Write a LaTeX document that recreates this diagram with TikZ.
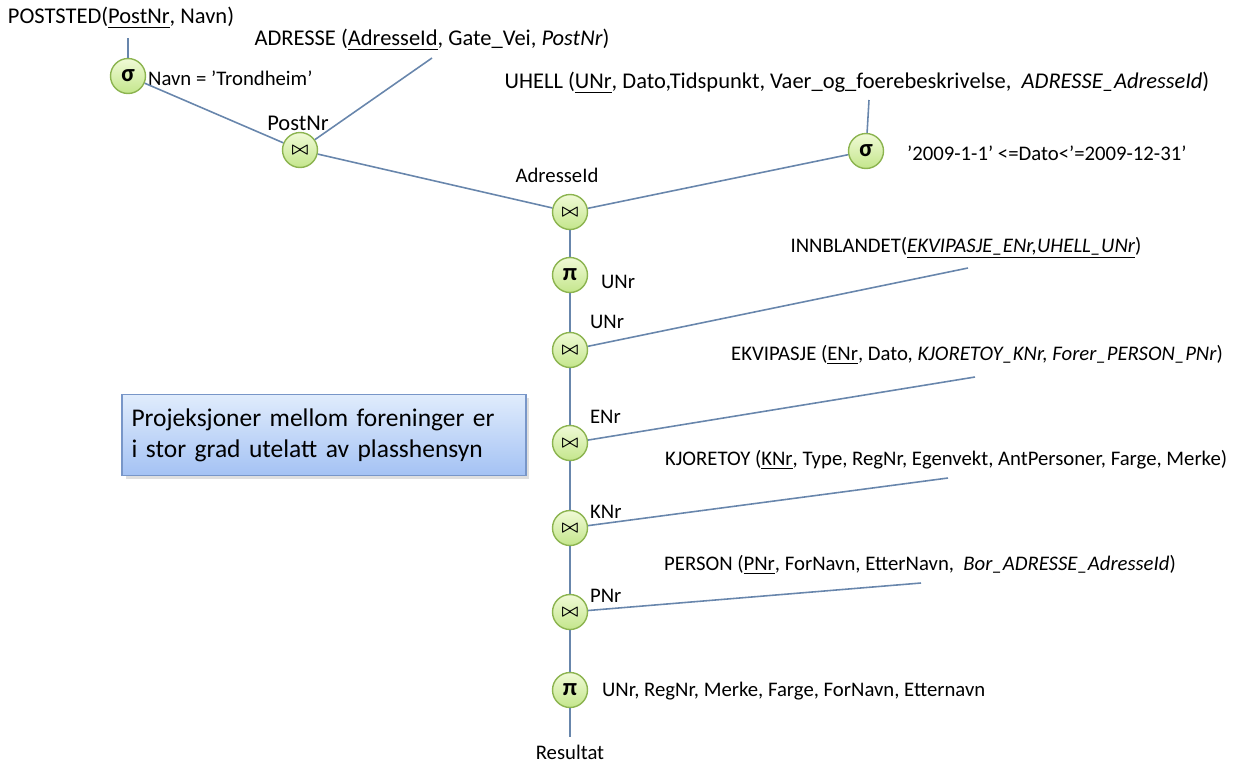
\documentclass[tikz,border=0pt]{standalone}
\usepackage{fontspec}
\setmainfont{Carlito}
\usepackage{amsmath,amssymb}
\usetikzlibrary{shadows}

\definecolor{edgeblue}{RGB}{104,134,172}
\definecolor{optop}{RGB}{240,250,214}
\definecolor{opbot}{RGB}{196,230,140}
\definecolor{opborder}{RGB}{140,180,80}
\definecolor{boxtop}{RGB}{224,236,252}
\definecolor{boxbot}{RGB}{164,194,244}
\definecolor{boxborder}{RGB}{120,150,200}

\newcommand{\joinsym}{$\scriptstyle\boldsymbol{\bowtie}$}

\begin{document}
\begin{tikzpicture}[x=0.02cm,y=-0.02cm,
  op/.style={circle,draw=opborder,line width=0.8pt,top color=optop,bottom color=opbot,
    minimum size=0.7cm,inner sep=0pt,font=\fontsize{14}{16}\selectfont\bfseries},
  rel/.style={font=\fontsize{11.8}{14}\selectfont,inner sep=1pt},
  bigrel/.style={rel,font=\fontsize{12.8}{15}\selectfont},
  edge/.style={draw=edgeblue,line width=0.9pt}]
\useasboundingbox (0,0) rectangle (1240,765);

% Relations
\node[bigrel] (poststed) at (121,18) {POSTSTED(\underline{PostNr}, Navn)};
\node[bigrel] (adresse) at (432,40) {ADRESSE (\underline{AdresseId}, Gate\_Vei, \textit{PostNr})};
\node[bigrel] (uhell) at (857,83) {UHELL (\underline{UNr}, Dato,Tidspunkt, Vaer\_og\_foerebeskrivelse,\ \ \textit{ADRESSE\_AdresseId})};
\node[rel] (innblandet) at (966,248) {INNBLANDET(\underline{\textit{EKVIPASJE\_ENr,UHELL\_UNr}})};
\node[rel] (ekvipasje) at (977,355) {EKVIPASJE (\underline{ENr}, Dato, \textit{KJORETOY\_KNr, Forer\_PERSON\_PNr})};
\node[rel] (kjoretoy) at (946,460) {KJORETOY (\underline{KNr}, Type, RegNr, Egenvekt, AntPersoner, Farge, Merke)};
\node[rel] (person) at (920,565) {PERSON (\underline{PNr}, ForNavn, EtterNavn,\ \ \textit{Bor\_ADRESSE\_AdresseId})};

% Free ends below the relations
\coordinate (poststedEnd) at (128,38);
\coordinate (adresseEnd) at (432,58);
\coordinate (uhellEnd) at (869,100);
\coordinate (innblandetEnd) at (968,268);
\coordinate (ekvipasjeEnd) at (975,377);
\coordinate (kjoretoyEnd) at (948,478);
\coordinate (personEnd) at (921,583);

% Operators
\node[op] (sigPost) at (128,76) {σ};
\node[op] (joinPost) at (300,150) {\joinsym};
\node[op] (sigUhell) at (866,151) {σ};
\node[op] (joinAdr) at (570,212) {\joinsym};
\node[op] (piUNr) at (570,275) {π};
\node[op] (joinInn) at (570,350) {\joinsym};
\node[op] (joinEkv) at (570,443) {\joinsym};
\node[op] (joinKjt) at (570,528) {\joinsym};
\node[op] (joinPers) at (570,612) {\joinsym};
\node[op] (piRes) at (570,690) {π};
\node[rel,inner sep=4pt] (res) at (570,752) {Resultat};

% Conditions and join attributes
\node[rel,anchor=west] at (146,78) {Navn = ’Trondheim’};
\node[bigrel] at (298,123) {PostNr};
\node[rel,anchor=west] at (905,153) {’2009-1-1’ <=Dato<’=2009-12-31’};
\node[rel] at (557,175) {AdresseId};
\node[rel,anchor=west] at (599,282) {UNr};
\node[rel,anchor=west] at (588,322) {UNr};
\node[rel,anchor=west] at (588,417) {ENr};
\node[rel,anchor=west] at (588,512) {KNr};
\node[rel,anchor=west] at (588,596) {PNr};
\node[rel,anchor=west] at (600,691) {UNr, RegNr, Merke, Farge, ForNavn, Etternavn};

% Edges
\draw[edge] (poststedEnd) -- (sigPost);
\draw[edge] (sigPost) -- (joinPost);
\draw[edge] (adresseEnd) -- (joinPost);
\draw[edge] (joinPost) -- (joinAdr);
\draw[edge] (uhellEnd) -- (sigUhell);
\draw[edge] (sigUhell) -- (joinAdr);
\draw[edge] (joinAdr) -- (piUNr);
\draw[edge] (piUNr) -- (joinInn);
\draw[edge] (innblandetEnd) -- (joinInn);
\draw[edge] (joinInn) -- (joinEkv);
\draw[edge] (ekvipasjeEnd) -- (joinEkv);
\draw[edge] (joinEkv) -- (joinKjt);
\draw[edge] (kjoretoyEnd) -- (joinKjt);
\draw[edge] (joinKjt) -- (joinPers);
\draw[edge] (personEnd) -- (joinPers);
\draw[edge] (joinPers) -- (piRes);
\draw[edge] (piRes) -- (res);

% Note
\node[draw=boxborder,line width=0.8pt,top color=boxtop,bottom color=boxbot,
  drop shadow={opacity=0.25,shadow xshift=2pt,shadow yshift=-2pt},
  minimum width=8.08cm,minimum height=1.62cm,align=left,text width=7.7cm,
  font=\fontsize{14.5}{17.5}\selectfont] (note) at (324,435)
  {Projeksjoner mellom foreninger er\\ i stor grad utelatt av plasshensyn};
\end{tikzpicture}
\end{document}
